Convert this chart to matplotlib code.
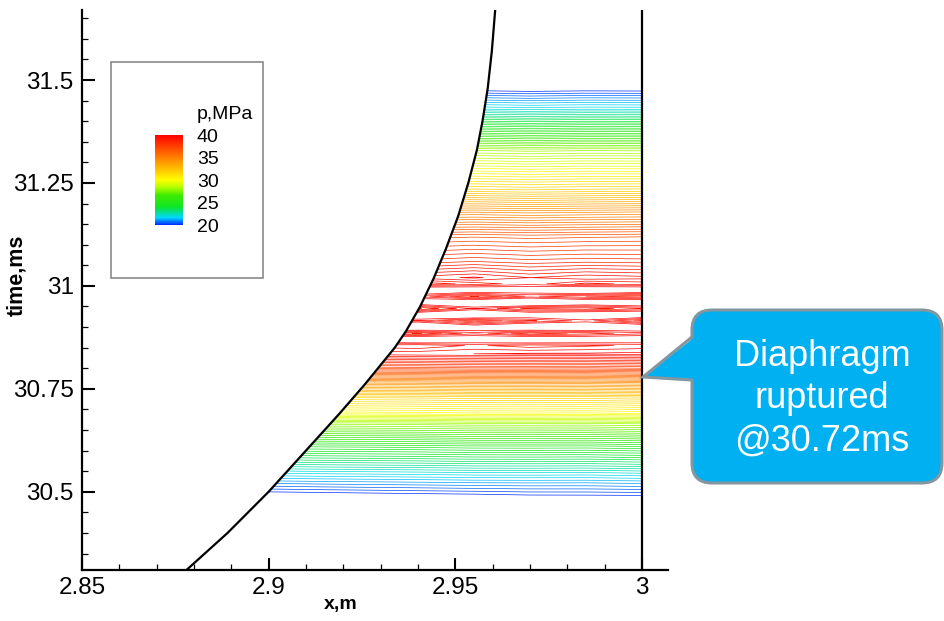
import numpy as np
import matplotlib.pyplot as plt
import matplotlib.cm as cm
from matplotlib.colors import LinearSegmentedColormap, Normalize
from matplotlib.patches import Polygon, FancyBboxPatch, Rectangle
from matplotlib.ticker import MultipleLocator

plt.rcParams['font.family'] = ['Liberation Sans', 'DejaVu Sans']

# pressure field (MPa)
x_cols = [2.89, 2.915, 2.94, 2.955, 2.97, 2.985, 3.0]
t_rows = [30.40, 30.47, 30.49, 30.52, 30.545, 30.61, 30.665, 30.69, 30.73,
          30.765, 30.80, 30.835, 30.855, 30.87, 30.885, 30.90, 30.915, 30.93,
          30.945, 30.96, 30.975, 30.99, 31.005, 31.02, 31.06, 31.12, 31.18,
          31.23, 31.28, 31.33, 31.38, 31.43, 31.475, 31.50, 31.60]
p_rows = [
    [17.0, 17.0, 17.0, 17.0, 17.0, 17.0, 17.0],
    [19.2, 19.3, 19.4, 19.45, 19.5, 19.6, 19.7],
    [19.7, 19.8, 19.9, 19.95, 20.03, 20.04, 20.06],
    [20.8, 20.9, 20.97, 21.02, 21.04, 21.03, 21.1],
    [21.8, 21.9, 21.97, 22.03, 22.04, 22.02, 22.1],
    [24.8, 24.9, 24.96, 25.03, 25.04, 25.02, 25.1],
    [27.8, 27.9, 27.96, 28.03, 28.04, 28.02, 28.1],
    [29.8, 29.9, 29.96, 30.03, 30.04, 30.02, 30.1],
    [31.8, 31.9, 31.96, 32.03, 32.04, 32.02, 32.1],
    [34.3, 34.4, 34.46, 34.53, 34.54, 34.52, 34.6],
    [37.3, 37.4, 37.46, 37.53, 37.54, 37.52, 37.6],
    [39.6, 39.7, 39.8, 39.85, 39.9, 39.9, 39.95],
    [39.0, 39.3, 39.1, 39.4, 39.2, 39.3, 39.4],
    [40.6, 40.3, 40.8, 40.4, 40.7, 40.5, 40.4],
    [38.9, 39.6, 38.8, 39.5, 38.9, 39.2, 39.5],
    [40.7, 40.5, 40.9, 40.3, 40.8, 40.6, 40.5],
    [39.2, 38.8, 39.6, 38.9, 39.3, 39.7, 39.0],
    [40.8, 40.6, 40.5, 40.9, 40.4, 40.7, 40.6],
    [38.9, 39.4, 38.8, 39.6, 39.0, 38.9, 39.3],
    [40.5, 40.8, 40.4, 40.7, 40.9, 40.5, 40.6],
    [39.3, 38.9, 39.5, 38.8, 39.4, 39.1, 38.9],
    [40.6, 40.4, 40.7, 40.5, 40.3, 40.8, 40.5],
    [39.0, 39.3, 38.9, 39.2, 39.5, 39.0, 39.2],
    [39.6, 39.8, 39.7, 39.9, 39.6, 39.8, 39.7],
    [38.36, 38.46, 38.42, 38.58, 38.44, 38.52, 38.48],
    [36.86, 36.96, 36.98, 37.06, 36.98, 37.04, 37.08],
    [34.36, 34.46, 34.48, 34.56, 34.48, 34.54, 34.58],
    [31.86, 31.96, 31.98, 32.06, 31.98, 32.04, 32.08],
    [29.86, 29.96, 29.98, 30.06, 29.98, 30.04, 30.02],
    [27.86, 27.96, 27.98, 28.06, 27.98, 28.04, 28.02],
    [24.86, 24.96, 24.98, 25.06, 24.98, 25.04, 25.02],
    [21.86, 21.96, 21.98, 22.06, 21.98, 22.04, 22.02],
    [19.86, 19.96, 19.98, 20.06, 19.98, 20.04, 20.02],
    [18.5, 18.5, 18.5, 18.5, 18.5, 18.5, 18.5],
    [17.0, 17.0, 17.0, 17.0, 17.0, 17.0, 17.0],
]

# moving boundary (left black curve)
wall_t = [30.31, 30.40, 30.50, 30.60, 30.69, 30.76, 30.81, 30.85, 30.89, 30.95,
          31.02, 31.09, 31.17, 31.25, 31.33, 31.40, 31.48, 31.57, 31.67]
wall_x = [2.878, 2.889, 2.900, 2.910, 2.919, 2.9257, 2.9302, 2.9338, 2.9368, 2.9406,
          2.9443, 2.9475, 2.9508, 2.9535, 2.9558, 2.9573, 2.9587, 2.9598, 2.9607]

cmap = LinearSegmentedColormap.from_list('rainbow_small', [
    (0.00, (0.0, 0.15, 1.0)),
    (0.08, (0.0, 0.85, 1.0)),
    (0.20, (0.05, 0.9, 0.15)),
    (0.33, (0.25, 0.92, 0.0)),
    (0.42, (0.7, 1.0, 0.0)),
    (0.50, (1.0, 1.0, 0.0)),
    (0.75, (1.0, 0.5, 0.0)),
    (1.00, (1.0, 0.0, 0.0)),
])
norm = Normalize(20, 40)
levels = np.arange(20.1, 40.0, 0.25)

fig = plt.figure(figsize=(9.44, 6.21), dpi=100)
ax = fig.add_axes([82/944, 51/621, 586/944, 560/621])

cs = ax.contour(x_cols, t_rows, np.array(p_rows), levels=levels, cmap=cmap,
                norm=norm, linewidths=0.5)
clip = Polygon(list(zip(wall_x, wall_t)) + [(3.0, wall_t[-1]), (3.0, wall_t[0])],
               closed=True, transform=ax.transData, fill=False, edgecolor='none')
cs.set_clip_path(clip)

ax.plot(wall_x, wall_t, color='k', lw=1.6)
ax.plot([3.0, 3.0], [30.31, 31.67], color='k', lw=1.6)

ax.set_xlim(2.85, 3.007)
ax.set_ylim(30.31, 31.67)
for s in ['top', 'right']:
    ax.spines[s].set_visible(False)
for s in ['left', 'bottom']:
    ax.spines[s].set_linewidth(1.6)

ax.set_xticks([2.85, 2.9, 2.95, 3.0])
ax.set_xticklabels(['2.85', '2.9', '2.95', '3'])
ax.set_yticks([30.5, 30.75, 31.0, 31.25, 31.5])
ax.set_yticklabels(['30.5', '30.75', '31', '31.25', '31.5'])
ax.xaxis.set_minor_locator(MultipleLocator(0.01))
ax.yaxis.set_minor_locator(MultipleLocator(0.05))
ax.tick_params(which='major', direction='in', length=9, width=1.5, labelsize=17.5)
ax.tick_params(which='minor', direction='in', length=4.5, width=0.9)
ax.tick_params(axis='y', pad=6)
ax.tick_params(axis='x', pad=5)

ax.set_xlabel('x,m', fontsize=14, fontweight='bold')
ax.xaxis.set_label_coords(0.442, -0.046)
ax.set_ylabel('time,ms', fontsize=15.5, fontweight='bold')
ax.yaxis.set_label_coords(-0.094, 0.527)

# legend box with colour bar
H = 6.21
fig.add_artist(Rectangle((111/100, H - 278/100), 152/100, 216/100,
                         transform=fig.dpi_scale_trans, facecolor='white',
                         edgecolor='#8a8a8a', lw=1.2, zorder=1))
cax = fig.add_axes([155/944, (621-225)/621, 28/944, 90/621])
cax.set_zorder(2)
cb = fig.colorbar(cm.ScalarMappable(norm=norm, cmap=cmap), cax=cax,
                  ticks=[20, 25, 30, 35, 40])
cb.outline.set_visible(False)
cax.tick_params(length=0, pad=10, labelsize=14)
fig.text(197/944, 1 - 115/621, 'p,MPa', fontsize=14, ha='left', va='center',
         zorder=3)

# callout
blue = '#00B0F0'
edge = '#8497A0'
fig.add_artist(FancyBboxPatch((692/100, H - 483/100), 250/100, 173/100,
                              boxstyle='round,pad=0,rounding_size=0.2',
                              transform=fig.dpi_scale_trans, facecolor=blue,
                              edgecolor=edge, lw=2.2))
fig.add_artist(Polygon([(695/100, H - 337/100), (643/100, H - 377/100),
                        (695/100, H - 380/100)], closed=True,
                       transform=fig.dpi_scale_trans, facecolor=blue,
                       edgecolor='none', zorder=3))
fig.add_artist(plt.Line2D([692/100, 643/100, 692/100],
                          [H - 337/100, H - 377/100, H - 380/100],
                          transform=fig.dpi_scale_trans, color=edge, lw=2.2,
                          zorder=4, solid_joinstyle='miter'))
for txt, yp in [('Diaphragm', 357), ('ruptured', 399), ('@30.72ms', 441)]:
    fig.text(822/944, 1 - yp/621, txt, fontsize=26, color='white',
             ha='center', va='center', zorder=5)

fig.savefig('out.png', dpi=100)
